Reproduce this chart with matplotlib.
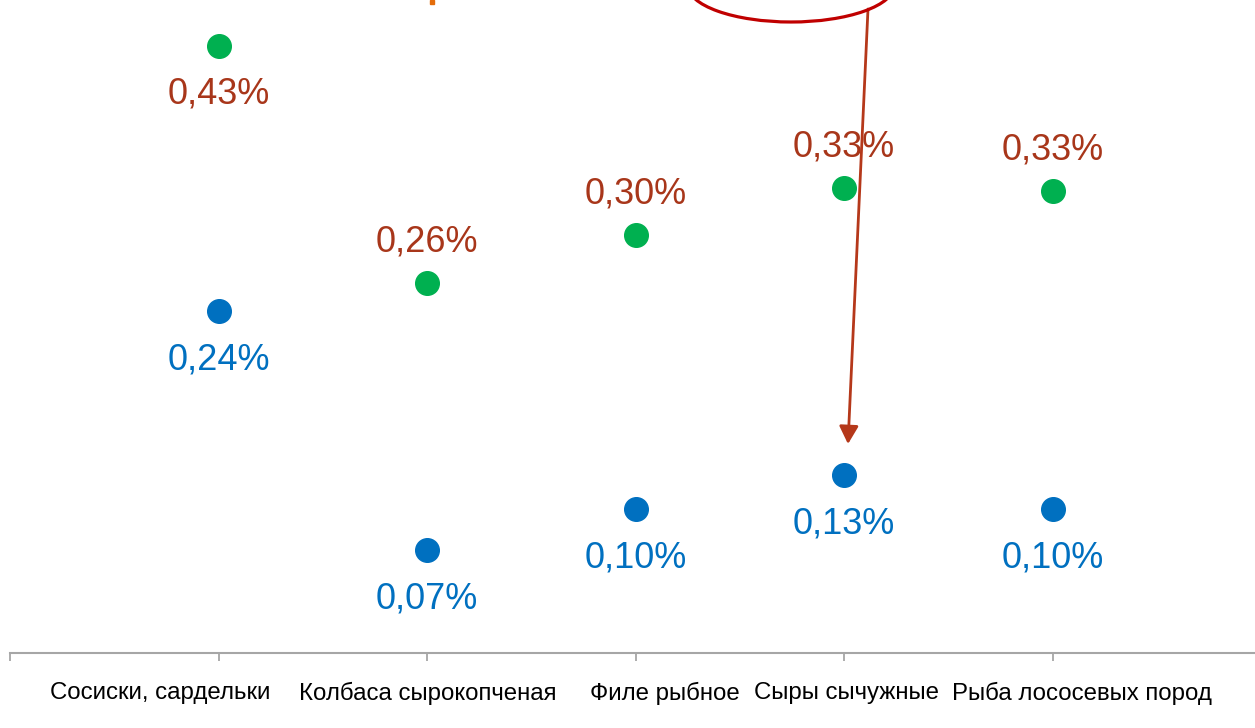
import matplotlib
matplotlib.use("Agg")
import matplotlib.pyplot as plt
from matplotlib.patches import Ellipse, Rectangle
from matplotlib.transforms import ScaledTranslation

plt.rcParams["font.family"] = ["Liberation Sans", "DejaVu Sans"]

# Data
categories = ["Сосиски, сардельки", "Колбаса сырокопченая", "Филе рыбное", "Сыры сычужные", "Рыба лососевых пород"]
green_values = [0.43, 0.262, 0.296, 0.3295, 0.3275]
blue_values = [0.242, 0.073, 0.102, 0.126, 0.102]
green_labels = ["0,43%", "0,26%", "0,30%", "0,33%", "0,33%"]
blue_labels = ["0,24%", "0,07%", "0,10%", "0,13%", "0,10%"]

GREEN = "#00B050"
BLUE = "#0070C0"
LABEL_RED = "#A8361A"
W, H = 1255, 728

fig = plt.figure(figsize=(W / 100, H / 100), dpi=100)
ax = fig.add_axes([10 / W, (H - 652.5) / H, 6 * 208.5 / W, 652.5 / H])

x = list(range(1, len(categories) + 1))
ax.plot(x, green_values, "o", color=GREEN, markersize=17, zorder=3)
ax.plot(x, blue_values, "o", color=BLUE, markersize=17, zorder=3)

for i, (xi, v) in enumerate(zip(x, green_values)):
    dy = -48 if i == 0 else 41
    ax.annotate(green_labels[i], (xi, v), xytext=(0, dy), textcoords="offset pixels",
                ha="center", va="center", fontsize=26, color=LABEL_RED)
for xi, v, lab in zip(x, blue_values, blue_labels):
    ax.annotate(lab, (xi, v), xytext=(0, -49), textcoords="offset pixels",
                ha="center", va="center", fontsize=26, color=BLUE)

ax.set_xlim(0, 6)
ax.set_ylim(0, 652.5 / 1410)
ax.set_xticks(range(0, 7))
ax.set_xticklabels([""] + categories + [""], fontsize=17.3)
ax.tick_params(axis="x", length=6, width=1.3, color="#A6A6A6", pad=15)
# labels are nudged sideways like in the original so they do not collide
shifts_px = [0, -58, 1, 29, 2, 29, 0]
for lab, s in zip(ax.get_xticklabels(), shifts_px):
    lab.set_transform(lab.get_transform() + ScaledTranslation(s / 100, 0, fig.dpi_scale_trans))
ax.set_yticks([])
for side in ["top", "right", "left"]:
    ax.spines[side].set_visible(False)
ax.spines["bottom"].set_color("#A6A6A6")
ax.spines["bottom"].set_linewidth(1.5)

# callout ellipse and arrow (partly outside the picture)
fig.add_artist(Ellipse((791 / W, 1 + 15 / H), 207 / W, 74 / H, transform=fig.transFigure,
                       fill=False, edgecolor="#C00000", linewidth=2.3))
ax.annotate("", xy=(848, H - 444), xytext=(868, H - 9), xycoords="figure pixels",
            textcoords="figure pixels",
            arrowprops=dict(arrowstyle="-|>,head_length=1.08,head_width=0.58", mutation_scale=10,
                            color="#B5381A", linewidth=2, shrinkA=0, shrinkB=0))
fig.add_artist(Rectangle((430 / W, 1 - 4 / H), 4 / W, 4 / H, transform=fig.transFigure,
                         color="#E46C0A"))

fig.savefig("out.png", dpi=100)
